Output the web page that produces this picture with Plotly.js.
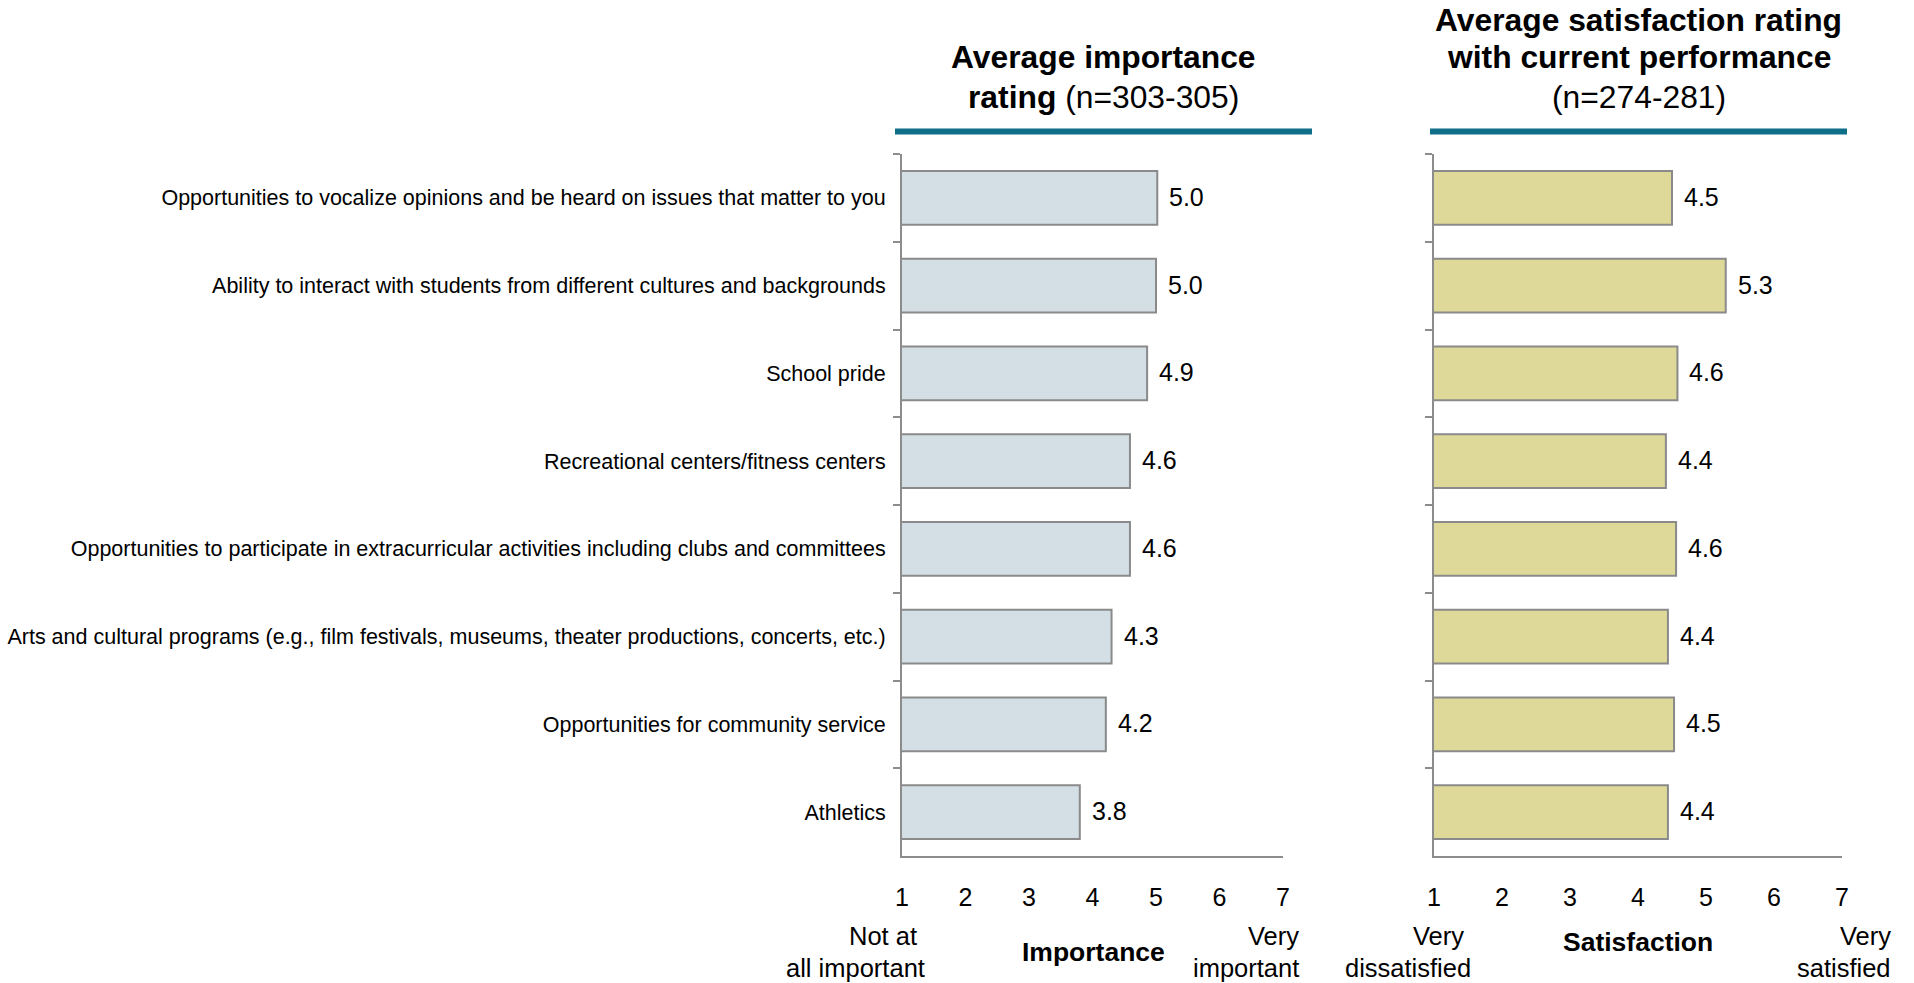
<!DOCTYPE html>
<html>
<head>
<meta charset="utf-8">
<script src="https://cdn.plot.ly/plotly-3.0.1.min.js"></script>
<style>html,body{margin:0;padding:0;background:#fff;}#chart{width:1914px;height:983px;}</style>
</head>
<body>
<div id="chart"></div>
<script>
// ---- Data ----
const categories = [
  "Opportunities to vocalize opinions and be heard on issues that matter to you",
  "Ability to interact with students from different cultures and backgrounds",
  "School pride",
  "Recreational centers/fitness centers",
  "Opportunities to participate in extracurricular activities including clubs and committees",
  "Arts and cultural programs (e.g., film festivals, museums, theater productions, concerts, etc.)",
  "Opportunities for community service",
  "Athletics"
];
const importanceValues = [5.02, 5.00, 4.86, 4.59, 4.59, 4.30, 4.21, 3.80];
const satisfactionValues = [4.50, 5.29, 4.58, 4.41, 4.56, 4.44, 4.53, 4.44];
const scaleTicks = [1, 2, 3, 4, 5, 6, 7];
const scaleTickLabels = ["1", "2", "3", "4", "5", "6", "7"];

// ---- Layout helpers (pixel -> paper) ----
const W = 1914, H = 983;
const M = {l: 902, r: 72, t: 154, b: 127};
const PW = W - M.l - M.r, PH = H - M.t - M.b;
const px = x => (x - M.l) / PW;
const py = y => (H - M.b - y) / PH;

const FONT = "Arial, 'Liberation Sans', sans-serif";
const axisGrey = "#8c8c8c";

const traces = [
  {
    type: "bar", orientation: "h",
    x: importanceValues, y: categories,
    xaxis: "x", yaxis: "y",
    marker: {color: "#d3dfe5", line: {color: "#8a8a8a", width: 2}},
    hoverinfo: "x+y"
  },
  {
    type: "bar", orientation: "h",
    x: satisfactionValues, y: categories,
    xaxis: "x2", yaxis: "y2",
    marker: {color: "#dfd999", line: {color: "#8a8a8a", width: 2}},
    hoverinfo: "x+y"
  }
];

const annotations = [];
importanceValues.forEach((v, i) => annotations.push({
  xref: "x", yref: "y", x: v, y: categories[i], text: v.toFixed(1),
  xanchor: "left", yanchor: "middle", xshift: 10, yshift: 1, showarrow: false,
  font: {family: FONT, size: 25, color: "#000"}
}));
satisfactionValues.forEach((v, i) => annotations.push({
  xref: "x2", yref: "y2", x: v, y: categories[i], text: v.toFixed(1),
  xanchor: "left", yanchor: "middle", xshift: 10, yshift: 1, showarrow: false,
  font: {family: FONT, size: 25, color: "#000"}
}));

function txt(text, x, y, anchor, size, bold) {
  annotations.push({
    xref: "paper", yref: "paper", x: px(x), y: py(y), text: bold ? "<b>" + text + "</b>" : text,
    xanchor: anchor, yanchor: "middle", showarrow: false,
    font: {family: FONT, size: size, color: "#000"}
  });
}
// Titles
txt("<b>Average importance</b>", 1103.5, 56.5, "center", 31.8, false);
txt("<b>rating</b> (n=303-305)", 1103.5, 96.5, "center", 31.8, false);
txt("<b>Average satisfaction rating</b>", 1638.5, 19.5, "center", 31.8, false);
txt("<b>with current performance</b>", 1638.5, 56.5, "center", 31.8, false);
txt("(n=274-281)", 1638.5, 96.5, "center", 31.8, false);
// Scale end labels
txt("Not at", 919, 936, "right", 25.5, false);
txt("all important", 927, 968, "right", 25.5, false);
txt("Importance", 1093, 952, "center", 26.5, true);
txt("Very", 1301, 936, "right", 25.5, false);
txt("important", 1301, 968, "right", 25.5, false);
txt("Very", 1466, 936, "right", 25.5, false);
txt("dissatisfied", 1473, 968, "right", 25.5, false);
txt("Satisfaction", 1638, 942, "center", 26.5, true);
txt("Very", 1893, 936, "right", 25.5, false);
txt("satisfied", 1893, 968, "right", 25.5, false);

const shapes = [
  {type: "line", xref: "paper", yref: "paper", x0: px(895), x1: px(1312), y0: py(131.5), y1: py(131.5),
   line: {color: "#106f88", width: 6}},
  {type: "line", xref: "paper", yref: "paper", x0: px(1430), x1: px(1847), y0: py(131.5), y1: py(131.5),
   line: {color: "#106f88", width: 6}}
];

const xCommon = {
  range: [1, 7], tickvals: scaleTicks, ticktext: scaleTickLabels,
  showgrid: false, zeroline: false, showline: true, linecolor: axisGrey, linewidth: 2,
  ticks: "", ticklabelstandoff: 18,
  tickfont: {family: FONT, size: 25, color: "#000"}, fixedrange: true
};
const yCommon = {
  type: "category", autorange: "reversed", showgrid: false, zeroline: false,
  showline: true, linecolor: axisGrey, linewidth: 2,
  ticks: "outside", tickson: "boundaries", ticklen: 7, tickwidth: 2, tickcolor: axisGrey,
  fixedrange: true
};

const layout = {
  width: W, height: H,
  margin: M,
  paper_bgcolor: "#fff", plot_bgcolor: "#fff",
  showlegend: false,
  bargap: 0.385,
  xaxis: Object.assign({}, xCommon, {domain: [0, px(1283)], anchor: "y"}),
  xaxis2: Object.assign({}, xCommon, {domain: [px(1434), 1], anchor: "y2"}),
  yaxis: Object.assign({}, yCommon, {anchor: "x", showticklabels: true, ticklabelstandoff: 10,
    tickfont: {family: FONT, size: 21.5, color: "#000"}}),
  yaxis2: Object.assign({}, yCommon, {anchor: "x2", showticklabels: false}),
  annotations: annotations,
  shapes: shapes
};

Plotly.newPlot("chart", traces, layout, {displayModeBar: false, responsive: false});
</script>
</body>
</html>
